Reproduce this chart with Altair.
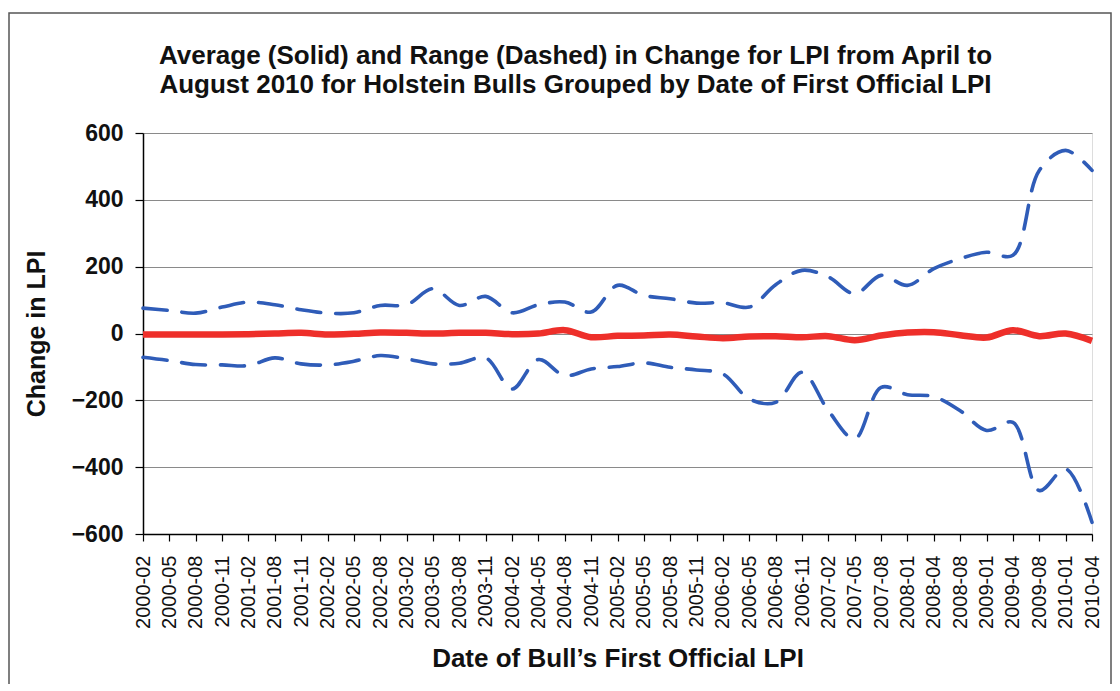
import altair as alt
import pandas as pd

labels = ["2000-02", "2000-05", "2000-08", "2000-11", "2001-02", "2001-08", "2001-11",
          "2002-02", "2002-05", "2002-08", "2003-02", "2003-05", "2003-08", "2003-11",
          "2004-02", "2004-05", "2004-08", "2004-11", "2005-02", "2005-05", "2005-08",
          "2005-11", "2006-02", "2006-05", "2006-08", "2006-11", "2007-02", "2007-05",
          "2007-08", "2008-01", "2008-04", "2008-08", "2009-01", "2009-04", "2009-08",
          "2010-01", "2010-04"]

avg_change = [-3, -3, -3, -3, -2, 0, 2, -3, -1, 3, 2, 0, 2, 2, -2, 0, 10, -11, -7,
              -6, -3, -9, -14, -9, -8, -11, -8, -20, -6, 3, 4, -5, -12, 10, -8, 0, -22]

max_change = [76, 69, 61, 79, 94, 86, 71, 61, 62, 84, 86, 134, 84, 111, 62, 86, 94, 64,
              144, 114, 104, 91, 92, 79, 146, 189, 169, 119, 174, 144, 194, 224, 243,
              234, 488, 548, 488]

min_change = [-71, -81, -93, -94, -96, -73, -91, -94, -83, -66, -76, -91, -89, -73,
              -166, -78, -126, -106, -99, -88, -101, -109, -121, -196, -206, -116, -231,
              -315, -161, -183, -189, -231, -290, -266, -470, -405, -565]

FONT = "Liberation Sans"

avg_df = pd.DataFrame({"date": labels, "value": avg_change})
rng_df = pd.concat([
    pd.DataFrame({"date": labels, "value": max_change, "series": "max"}),
    pd.DataFrame({"date": labels, "value": min_change, "series": "min"}),
])

x_enc = alt.X(
    "date:N", sort=labels,
    scale=alt.Scale(type="point", padding=0),
    axis=alt.Axis(
        title="Date of Bull\u2019s First Official LPI",
        labelAngle=-90, labelFontSize=20, labelFont=FONT, labelColor="#111",
        labelPadding=14, tickSize=7, tickColor="#000", domainColor="#000",
        domainWidth=1.5, tickWidth=1.2, grid=False,
        titleFontSize=26, titleFont=FONT, titleFontWeight="bold", titleColor="#111",
        titlePadding=17,
    ),
)
y_enc = alt.Y(
    "value:Q",
    scale=alt.Scale(domain=[-600, 600], nice=False, zero=False),
    axis=alt.Axis(
        title="Change in LPI", values=[-600, -400, -200, 0, 200, 400, 600],
        labelFontSize=23, labelFont=FONT, labelFontWeight="bold", labelColor="#111",
        labelPadding=12, tickSize=8, tickColor="#000", domainColor="#000",
        domainWidth=1.5, tickWidth=1.2, grid=True, gridColor="#8a8a8a", gridWidth=1,
        titleFontSize=25, titleFont=FONT, titleFontWeight="bold", titleColor="#111",
        titlePadding=22,
    ),
)

frame = alt.Chart(pd.DataFrame({"k": [0]})).mark_rect(
    fill=None, stroke="#555555", strokeWidth=1.5
).encode(
    x=alt.value(-134), x2=alt.value(968), y=alt.value(-120), y2=alt.value(560)
)

range_lines = alt.Chart(rng_df).mark_line(
    color="#2f5cb8", strokeWidth=3.6, strokeDash=[24, 15], strokeCap="round",
    interpolate="catmull-rom"
).encode(x=x_enc, y=y_enc, detail="series:N")

avg_line = alt.Chart(avg_df).mark_line(
    color="#ee2f2a", strokeWidth=6.5, interpolate="catmull-rom"
).encode(x=x_enc, y=y_enc)

chart = alt.layer(frame, range_lines, avg_line).properties(
    width=949, height=401,
    autosize=alt.AutoSizeParams(type="none"),
    padding={"left": 135, "top": 125, "right": 20, "bottom": 150},
    title=alt.TitleParams(
        text=["Average (Solid) and Range (Dashed) in Change for LPI from April to",
              "August 2010 for Holstein Bulls Grouped by Date of First Official LPI"],
        font=FONT, fontSize=26, fontWeight="bold", color="#111",
        anchor="middle", frame="group", dx=-42, offset=-86, lineHeight=29,
    ),
).configure_view(stroke="#8a8a8a", strokeWidth=1.5).configure(background="white")

chart.save("out.html", embed_options={"renderer": "svg", "actions": False})
